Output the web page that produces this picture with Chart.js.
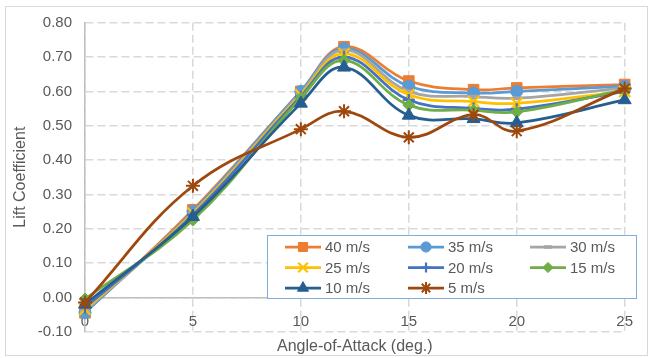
<!DOCTYPE html>
<html><head><meta charset="utf-8">
<script src="https://cdn.jsdelivr.net/npm/chart.js@4.4.1/dist/chart.umd.min.js"></script>
<style>html,body{margin:0;padding:0;background:#fff}#wrap{width:648px;height:358px;position:relative}</style>
</head><body><div id="wrap"><canvas id="c" width="648" height="358"></canvas></div>
<script>
// ---- data ----
const angles = [0, 5, 10, 12, 15, 18, 20, 25];
const seriesNames = ['40 m/s', '35 m/s', '30 m/s', '25 m/s', '20 m/s', '15 m/s', '10 m/s', '5 m/s'];
const cl40 = [-0.045, 0.255, 0.600, 0.730, 0.630, 0.605, 0.610, 0.620];
const cl35 = [-0.045, 0.250, 0.600, 0.725, 0.615, 0.595, 0.600, 0.615];
const cl30 = [-0.040, 0.245, 0.595, 0.720, 0.600, 0.585, 0.580, 0.610];
const cl25 = [-0.035, 0.245, 0.590, 0.710, 0.590, 0.570, 0.565, 0.600];
const cl20 = [-0.030, 0.240, 0.585, 0.700, 0.575, 0.550, 0.548, 0.600];
const cl15 = [-0.005, 0.225, 0.580, 0.690, 0.560, 0.545, 0.540, 0.605];
const cl10 = [-0.020, 0.235, 0.565, 0.670, 0.530, 0.520, 0.508, 0.575];
const cl5  = [-0.015, 0.325, 0.490, 0.542, 0.466, 0.532, 0.484, 0.608];
const xTickValues = [0, 5, 10, 15, 20, 25];
const yTickValues = [-0.1, 0, 0.1, 0.2, 0.3, 0.4, 0.5, 0.6, 0.7, 0.8];
const xTitle = 'Angle-of-Attack (deg.)';
const yTitle = 'Lift Coefficient';

// ---- styles ----
const allValues = [cl40, cl35, cl30, cl25, cl20, cl15, cl10, cl5];
const colors = ['#ED7D31', '#5B9BD5', '#A5A5A5', '#FFC000', '#4472C4', '#70AD47', '#255E91', '#9E480E'];
const styles = ['rect', 'circle', 'line', 'crossRot', 'cross', 'rectRot', 'triangle', 'star'];
const radii = [7.5, 6, 5, 8, 6, 6, 7.5, 7];
const pbw = [1, 1, 3.5, 2.2, 2.2, 1, 1, 2];
const FONT = "'Liberation Sans', Arial, sans-serif";
const TXT = '#595959';

const datasets = allValues.map((vals, i) => ({
  label: seriesNames[i],
  data: angles.map((a, j) => ({x: a, y: vals[j]})),
  borderColor: colors[i],
  backgroundColor: colors[i],
  borderWidth: 2.75,
  tension: 0.4,
  pointStyle: styles[i],
  pointRadius: radii[i],
  pointBackgroundColor: colors[i],
  pointBorderColor: colors[i],
  pointBorderWidth: pbw[i],
  order: 7 - i,
  clip: false
}));

const frame = {
  id: 'frame',
  beforeDraw(chart) {
    const ctx = chart.ctx;
    ctx.save();
    ctx.fillStyle = '#fff';
    ctx.fillRect(0, 0, chart.width, chart.height);
    ctx.strokeStyle = '#D9D9D9';
    ctx.lineWidth = 1;
    ctx.strokeRect(5.5, 6.5, 642, 349);
    ctx.restore();
  }
};

const legendBox = {
  id: 'legendBox',
  afterDraw(chart) {
    const ctx = chart.ctx;
    ctx.save();
    ctx.fillStyle = '#fff';
    ctx.fillRect(267, 235, 369, 63);
    ctx.strokeStyle = '#7FAEDC';
    ctx.lineWidth = 1;
    ctx.strokeRect(267.5, 235.5, 369, 63);
    const cols = [285, 408, 530];
    const rows = [247, 267.5, 288];
    chart.data.datasets.forEach((ds, i) => {
      const x1 = cols[i % 3], y = rows[Math.floor(i / 3)];
      ctx.strokeStyle = ds.borderColor;
      ctx.lineWidth = 2.75;
      ctx.beginPath(); ctx.moveTo(x1, y); ctx.lineTo(x1 + 36, y); ctx.stroke();
      ctx.fillStyle = ds.pointBackgroundColor;
      ctx.strokeStyle = ds.pointBorderColor;
      ctx.lineWidth = ds.pointBorderWidth;
      Chart.helpers.drawPoint(ctx, {pointStyle: ds.pointStyle, radius: ds.pointRadius * 0.85, rotation: 0, borderWidth: ds.pointBorderWidth}, x1 + 18, y);
      ctx.fillStyle = TXT;
      ctx.font = '15px ' + FONT;
      ctx.textBaseline = 'middle';
      ctx.textAlign = 'left';
      ctx.fillText(ds.label, x1 + 40, y + 1);
    });
    ctx.restore();
  }
};

new Chart(document.getElementById('c'), {
  type: 'line',
  data: {datasets},
  options: {
    responsive: false,
    animation: false,
    events: [],
    layout: {padding: {left: 5, right: 11, top: 22.7, bottom: 26.3}},
    plugins: {legend: {display: false}, tooltip: {enabled: false}},
    scales: {
      x: {
        type: 'linear', min: 0, max: 25,
        position: {y: 0},
        afterBuildTicks: s => { s.ticks = xTickValues.map(v => ({value: v})); },
        ticks: {padding: 15, color: TXT, font: {family: FONT, size: 15}, maxRotation: 0, callback: v => String(v)},
        grid: {color: '#D9D9D9', lineWidth: 1.5, drawTicks: false},
        border: {display: true, color: '#BFBFBF', width: 1.5, dash: [8, 4]},
        title: {display: true, text: xTitle, color: TXT, font: {family: FONT, size: 16}, padding: {top: -8, bottom: 0}}
      },
      y: {
        type: 'linear', min: -0.1, max: 0.8,
        position: 'left',
        afterBuildTicks: s => { s.ticks = yTickValues.map(v => ({value: v})); },
        afterFit: s => { s.width = 80; },
        ticks: {padding: 13, color: TXT, font: {family: FONT, size: 15}, callback: v => Number(v).toFixed(2)},
        grid: {color: '#D9D9D9', lineWidth: 1.5, drawTicks: false},
        border: {display: true, color: '#BFBFBF', width: 1.5, dash: [8, 4]},
        title: {display: true, text: yTitle, color: TXT, font: {family: FONT, size: 16}, padding: {top: 6, bottom: 0}}
      }
    }
  },
  plugins: [frame, legendBox]
});
</script></body></html>
